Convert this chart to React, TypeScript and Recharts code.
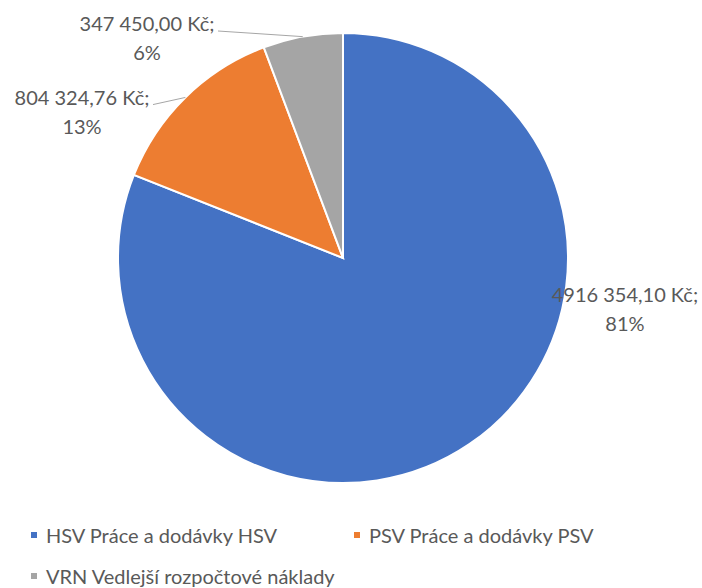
import { Cell, Legend, Pie, PieChart } from "recharts";

const CATEGORIES = [
  "HSV Práce a dodávky HSV",
  "PSV Práce a dodávky PSV",
  "VRN Vedlejší rozpočtové náklady"
];
const VALUES = [4916354.1, 804324.76, 347450.0];
const COLORS = ["#4472C4", "#ED7D31", "#A5A5A5"];

// label placement, as multiples of the outer radius from the pie centre
const LABEL_POS = [
  { dx: 1.253, dy: 0.224, leader: false },
  { dx: -1.16, dy: -0.653, leader: true },
  { dx: -0.871, dy: -0.98, leader: true }
];

const FONT = "Lato, 'Open Sans', sans-serif";
const TEXT = "#595959";
const RAD = Math.PI / 180;

const data = CATEGORIES.map((name, i) => ({ name, value: VALUES[i] }));

function formatKc(v: number) {
  const [int, dec] = v.toFixed(2).split(".");
  const n = Number(int);
  const head = n >= 1000 ? `${Math.floor(n / 1000)} ${int.slice(-3)}` : int;
  return `${head},${dec} Kč;`;
}

function renderLabel(props: any) {
  const { cx, cy, midAngle, outerRadius, index, value, percent } = props;
  const pos = LABEL_POS[index];
  const x = cx + pos.dx * outerRadius;
  const y = cy + pos.dy * outerRadius;
  const half = 14.5;
  const ex = cx + outerRadius * Math.cos(-midAngle * RAD);
  const ey = cy + outerRadius * Math.sin(-midAngle * RAD);
  return (
    <g key={`lbl-${index}`}>
      {pos.leader ? (
        <polyline
          points={`${x + 71},${y - half + 8} ${ex},${ey}`}
          fill="none"
          stroke="#A6A6A6"
          strokeWidth={1}
        />
      ) : null}
      <text
        x={x}
        y={y - half}
        textAnchor="middle"
        dominantBaseline="central"
        fill={TEXT}
        fontSize={20}
        fontFamily={FONT}
      >
        {formatKc(value)}
      </text>
      <text
        x={x}
        y={y + half}
        textAnchor="middle"
        dominantBaseline="central"
        fill={TEXT}
        fontSize={20}
        fontFamily={FONT}
      >
        {`${Math.round(percent * 100)}%`}
      </text>
    </g>
  );
}

function LegendContent() {
  return (
    <div
      style={{
        display: "flex",
        flexWrap: "wrap",
        paddingLeft: 31,
        width: 702,
        boxSizing: "border-box",
        fontFamily: FONT,
        fontSize: 20,
        color: TEXT
      }}
    >
      {CATEGORIES.map((c, i) => (
        <div
          key={c}
          style={{ width: 323, height: 40.5, display: "flex", alignItems: "center" }}
        >
          <span
            style={{
              width: 6,
              height: 6,
              background: COLORS[i],
              marginRight: 9,
              display: "inline-block"
            }}
          />
          <span>{c}</span>
        </div>
      ))}
    </div>
  );
}

export default function App() {
  return (
    <div style={{ width: 702, height: 588, background: "#fff" }}>
      <style>{`body{margin:0}`}</style>
      <PieChart width={702} height={588} margin={{ top: 0, right: 0, bottom: 0, left: 0 }}>
        <Pie
          data={data}
          dataKey="value"
          nameKey="name"
          cx={343}
          cy={258}
          outerRadius={225}
          startAngle={90}
          endAngle={-270}
          stroke="#fff"
          strokeWidth={2}
          label={renderLabel}
          labelLine={false}
          isAnimationActive={false}
        >
          {data.map((_, i) => (
            <Cell key={i} fill={COLORS[i]} />
          ))}
        </Pie>
        <Legend
          content={<LegendContent />}
          wrapperStyle={{ top: 515, left: 0, width: 702 }}
        />
      </PieChart>
    </div>
  );
}
